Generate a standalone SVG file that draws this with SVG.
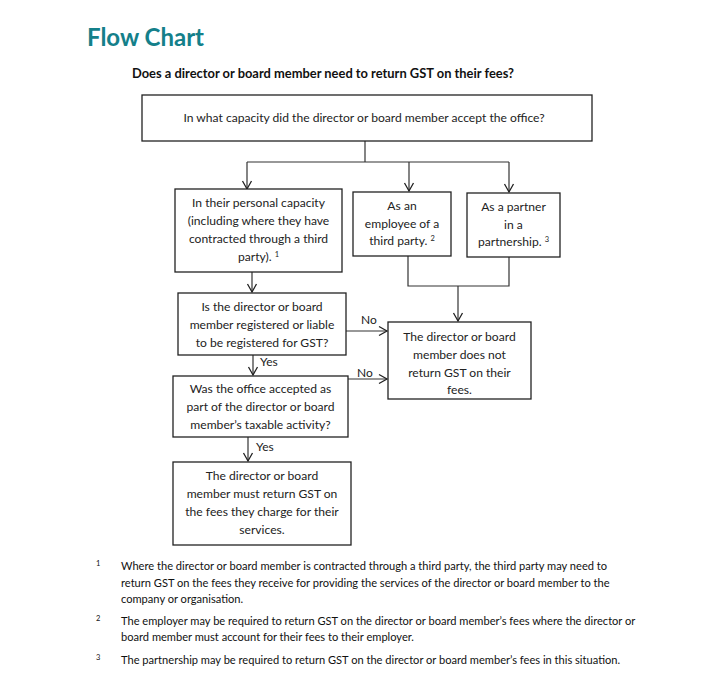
<svg xmlns="http://www.w3.org/2000/svg" width="724" height="695" viewBox="0 0 724 695">
<defs>
<style>
.bg{fill:#ffffff}
.box{fill:#ffffff;stroke:#222222;stroke-width:1.3}
.ln{fill:none;stroke:#333333;stroke-width:1.2}
.t{font-family:Lato,"Open Sans","Liberation Sans",sans-serif;font-size:12.1px;fill:#222222;text-anchor:middle}
.lbl{font-family:Lato,"Open Sans","Liberation Sans",sans-serif;font-size:12px;fill:#222222}
.fn{font-family:Lato,"Open Sans","Liberation Sans",sans-serif;font-size:11.1px;fill:#111111}
.fnn{font-family:Lato,"Open Sans","Liberation Sans",sans-serif;font-size:7.5px;fill:#111111}
.sup{font-size:7.5px}
.title{font-family:Lato,"Open Sans","Liberation Sans",sans-serif;font-size:24px;font-weight:700;fill:#14808a}
.sub{font-family:Lato,"Open Sans","Liberation Sans",sans-serif;font-size:12.9px;font-weight:700;fill:#111111;text-anchor:middle}
</style>
<marker id="arr" markerWidth="12" markerHeight="12" refX="9" refY="5" orient="auto" markerUnits="userSpaceOnUse" viewBox="0 0 12 10">
<path d="M1,0.5 L9,5 L1,9.5" fill="none" stroke="#222222" stroke-width="1.3"/>
</marker>
</defs>
<rect class="bg" x="0" y="0" width="724" height="695"/>

<text class="title" x="87" y="46">Flow Chart</text>
<text class="sub" x="323" y="78">Does a director or board member need to return GST on their fees?</text>

<g id="connectors">
<path class="ln" d="M365,141 V162"/>
<path class="ln" d="M247,162 H509"/>
<path class="ln" d="M247,162 V189" marker-end="url(#arr)"/>
<path class="ln" d="M409,162 V191" marker-end="url(#arr)"/>
<path class="ln" d="M509,162 V192" marker-end="url(#arr)"/>
<path class="ln" d="M408,256 V286 H509 V257"/>
<path class="ln" d="M458,286 V321" marker-end="url(#arr)"/>
<path class="ln" d="M252,272 V292" marker-end="url(#arr)"/>
<path class="ln" d="M346,331 H387" marker-end="url(#arr)"/>
<text class="lbl" x="361" y="324">No</text>
<path class="ln" d="M253,355 V375" marker-end="url(#arr)"/>
<text class="lbl" x="260" y="366">Yes</text>
<path class="ln" d="M348,379 H387" marker-end="url(#arr)"/>
<text class="lbl" x="357" y="377">No</text>
<path class="ln" d="M248,437 V461" marker-end="url(#arr)"/>
<text class="lbl" x="256" y="451">Yes</text>
</g>

<g id="q-capacity">
<rect class="box" x="142" y="95" width="450" height="46"/>
<text class="t" x="364" y="122">In what capacity did the director or board member accept the office?</text>
</g>

<g id="personal">
<rect class="box" x="175" y="189" width="167" height="83"/>
<text class="t" x="258.5" y="207">In their personal capacity</text>
<text class="t" x="258.5" y="225">(including where they have</text>
<text class="t" x="258.5" y="243">contracted through a third</text>
<text class="t" x="258.5" y="261">party). <tspan class="sup" baseline-shift="super">1</tspan></text>
</g>

<g id="employee">
<rect class="box" x="353" y="192" width="98" height="64"/>
<text class="t" x="402" y="210">As an</text>
<text class="t" x="402" y="228">employee of a</text>
<text class="t" x="402" y="245">third party. <tspan class="sup" baseline-shift="super">2</tspan></text>
</g>

<g id="partner">
<rect class="box" x="467" y="193" width="93" height="64"/>
<text class="t" x="513.5" y="211">As a partner</text>
<text class="t" x="513.5" y="229">in a</text>
<text class="t" x="513.5" y="246">partnership. <tspan class="sup" baseline-shift="super">3</tspan></text>
</g>

<g id="q-registered">
<rect class="box" x="178" y="293" width="168" height="62"/>
<text class="t" x="262" y="311">Is the director or board</text>
<text class="t" x="262" y="329">member registered or liable</text>
<text class="t" x="262" y="347">to be registered for GST?</text>
</g>

<g id="no-return">
<rect class="box" x="388" y="322" width="143" height="77"/>
<text class="t" x="459.5" y="341">The director or board</text>
<text class="t" x="459.5" y="359">member does not</text>
<text class="t" x="459.5" y="377">return GST on their</text>
<text class="t" x="459.5" y="394">fees.</text>
</g>

<g id="q-taxable">
<rect class="box" x="173" y="376" width="175" height="61"/>
<text class="t" x="260.5" y="393">Was the office accepted as</text>
<text class="t" x="260.5" y="411">part of the director or board</text>
<text class="t" x="260.5" y="429">member’s taxable activity?</text>
</g>

<g id="must-return">
<rect class="box" x="173" y="462" width="178" height="83"/>
<text class="t" x="262" y="480">The director or board</text>
<text class="t" x="262" y="498">member must return GST on</text>
<text class="t" x="262" y="516">the fees they charge for their</text>
<text class="t" x="262" y="534">services.</text>
</g>

<g id="footnotes">
<text class="fnn" x="96" y="566">1</text>
<text class="fn" x="121" y="570">Where the director or board member is contracted through a third party, the third party may need to</text>
<text class="fn" x="121" y="587">return GST on the fees they receive for providing the services of the director or board member to the</text>
<text class="fn" x="121" y="603">company or organisation.</text>
<text class="fnn" x="96" y="621">2</text>
<text class="fn" x="121" y="625">The employer may be required to return GST on the director or board member’s fees where the director or</text>
<text class="fn" x="121" y="641">board member must account for their fees to their employer.</text>
<text class="fnn" x="96" y="660">3</text>
<text class="fn" x="121" y="664">The partnership may be required to return GST on the director or board member’s fees in this situation.</text>
</g>
</svg>
